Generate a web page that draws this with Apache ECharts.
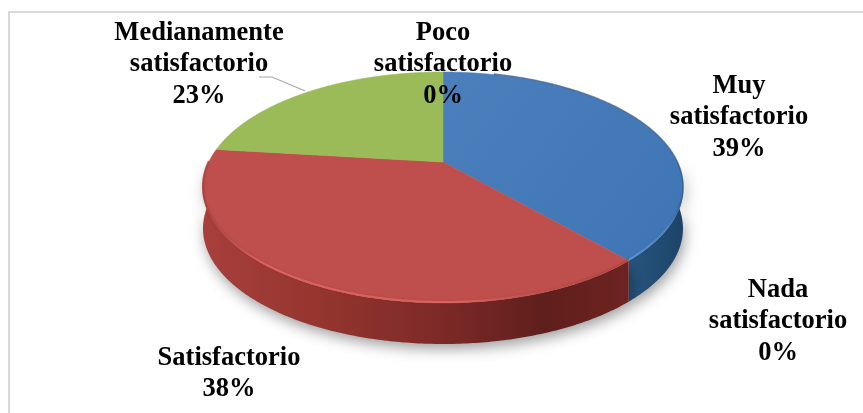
<!DOCTYPE html>
<html><head><meta charset="utf-8">
<style>html,body{margin:0;padding:0;background:#fff}#c{width:863px;height:413px}</style>
<script src="https://cdn.jsdelivr.net/npm/echarts@6/dist/echarts.min.js"></script>
</head><body><div id="c"></div>
<script>
const categories = ['Muy satisfactorio','Satisfactorio','Medianamente satisfactorio','Poco satisfactorio','Nada satisfactorio'];
const labelLines = [['Muy','satisfactorio'],['Satisfactorio'],['Medianamente','satisfactorio'],['Poco','satisfactorio'],['Nada','satisfactorio']];
const values = [39,38,23,0,0];
const colors = ['#4f81bd','#c0504d','#9bbb59','#8064a2','#4bacc6'];

// Layout of the tilted disc
const G = {ax:443, ay:162, cy:187.5, rx:240, ry:115.5, depth:41, f:250, a:110, k:0.2208};
const labelAnchors = [[739,86],[229,358],[199,33],[443,33],[778,290]];
const lineH = 31.5;
const total = values.reduce((a,b)=>a+b,0);

function rim(theta){
  const x=Math.sin(theta), d=-Math.cos(theta), w=1-G.k*d;
  const dx=G.f*x/w, dy=G.a*d/w;
  let lo=0, hi=3;
  for(let i=0;i<40;i++){
    const t=(lo+hi)/2, px=dx*t, py=G.ay+dy*t-G.cy;
    if((px/G.rx)**2+(py/G.ry)**2<1) lo=t; else hi=t;
  }
  return [G.ax+dx*lo, G.ay+dy*lo];
}
function arc(a0,a1,dy){
  const n=Math.max(2,Math.ceil(Math.abs(a1-a0)/0.01)), p=[];
  for(let i=0;i<=n;i++){const q=rim(a0+(a1-a0)*i/n); p.push([q[0],q[1]+(dy||0)]);}
  return p;
}
function grad(stops){return new echarts.graphic.LinearGradient(0,0,1,0,stops.map(c=>({offset:c[0],color:c[1]})));}
const sideFill = {
  0: grad([[0,'#27557f'],[1,'#1d4468']]),
  1: grad([[0,'#a83f3c'],[0.25,'#96362f'],[0.55,'#7e2a28'],[0.8,'#5f1f1c'],[1,'#6d2321']])
};
const hiStroke = {
  0: grad([[0,'rgba(90,150,215,0.9)'],[0.7,'rgba(90,150,215,0.5)'],[1,'rgba(40,80,125,0.7)']]),
  1: grad([[0,'rgba(165,58,54,0.8)'],[0.15,'rgba(225,100,95,0.9)'],[0.6,'rgba(225,100,95,0.9)'],[1,'rgba(170,60,55,0.4)']])
};
const topFill = {
  0: new echarts.graphic.LinearGradient(0,0,1,1,[{offset:0,color:'#4b7fbc'},{offset:1,color:'#3f75b5'}]),
  1: '#bf4f4c',
  2: '#9bbb59'
};
const startAt=[0]; values.forEach((v,i)=>startAt.push(startAt[i]+v/total*Math.PI*2));

function renderItem(params,api){
  const i=params.dataIndex, v=api.value(0), ch=[];
  const a0=startAt[i], a1=startAt[i+1];
  if(v>0){
    const lowA=Math.max(a0,Math.PI*0.5), highA=Math.min(a1,Math.PI*1.5);
    if(highA>lowA){
      const up=arc(lowA,highA,0), dn=arc(highA,lowA,G.depth);
      ch.push({type:'polygon',shape:{points:up.concat(dn)},
        style:{fill:sideFill[i]||colors[i],shadowBlur:14,shadowColor:'rgba(0,0,0,0.38)',shadowOffsetX:2,shadowOffsetY:5},z2:1});
    }
    const pts=[[G.ax,G.ay]].concat(arc(a0,a1,0));
    ch.push({type:'polygon',shape:{points:pts},style:{fill:topFill[i],stroke:colors[i],lineWidth:0.6},z2:2});
    if(highA>lowA){
      ch.push({type:'polyline',shape:{points:arc(Math.max(a0,Math.PI*0.62),highA,-1)},style:{fill:'none',stroke:hiStroke[i],lineWidth:2,shadowBlur:3,shadowColor:'rgba(0,0,0,0.15)'},z2:3});
    }
    if(i===0){
      ch.push({type:'polyline',shape:{points:arc(Math.PI*0.08,Math.PI*0.62,-0.5)},style:{fill:'none',stroke:'rgba(50,85,130,0.7)',lineWidth:1.6},z2:3});
    }
  }
  return {type:'group',children:ch};
}
function renderLabel(params,api){
  const i=params.dataIndex, [x,y]=labelAnchors[i];
  const lines=labelLines[i].concat([api.value(0)+'%']);
  return {type:'group',z2:10,children:lines.map((t,j)=>({
    type:'text',z2:10,
    style:{x,y:y+j*lineH,text:t,align:'center',verticalAlign:'middle',fill:'#000',
      font:'bold 26.5px "Liberation Serif","Times New Roman",serif'}
  }))};
}
const chart=echarts.init(document.getElementById('c'),null,{renderer:'canvas'});
chart.setOption({
  animation:false,
  backgroundColor:'#fff',
  graphic:[
    {type:'polyline',z:0,shape:{points:[[9,413],[9,12],[863,12]]},style:{fill:'none',stroke:'#d9d9d9',lineWidth:2}},
    {type:'polyline',z:50,shape:{points:[[259,77],[272,77],[305,91]]},style:{fill:'none',stroke:'#a6a6a6',lineWidth:1.2}}
  ],
  series:[
    {type:'custom',coordinateSystem:'none',z:5,renderItem,data:values.map((v,i)=>({name:categories[i],value:[v]})),silent:true},
    {type:'custom',coordinateSystem:'none',z:60,renderItem:renderLabel,data:values.map((v,i)=>({name:categories[i],value:[v]})),silent:true}
  ]
});
</script></body></html>
